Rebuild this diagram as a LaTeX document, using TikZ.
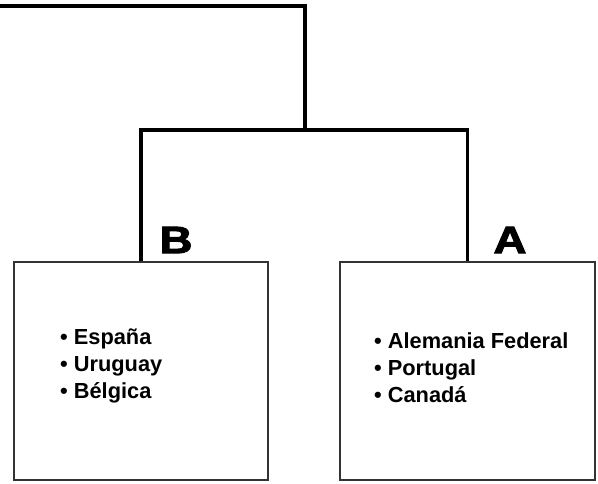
\documentclass[tikz,border=0pt]{standalone}
\usepackage{fontspec}
\setmainfont{Liberation Sans}
\newfontfamily\tagfont[BoldFeatures={FakeBold=2.5}]{Liberation Sans}
\begin{document}
\begin{tikzpicture}
[
 x=1pt, y=-1pt,
 inner sep=0pt,
 LINK/.style={line width=3.6pt, line join=miter},
 GROUPBOX/.style={rectangle, draw=black!80, line width=1.4pt, fill=white},
 LISTTXT/.style={anchor=west, align=left, font=\fontsize{21.8}{27}\selectfont\bfseries},
 TAG/.style={font=\tagfont\fontsize{38}{38}\selectfont\bfseries, xscale=1.2},
 ]
%
\useasboundingbox (0,0) rectangle (598,483);
%
\node [GROUPBOX, minimum width=254pt, minimum height=218pt]  (BOXB)  at (141,371)   {};
\node [GROUPBOX, minimum width=255pt, minimum height=218pt]  (BOXA)  at (467.5,371) {};
%
\coordinate (LEFT) at (0,6);
\coordinate (JOIN) at (305,130);
%
\draw [LINK]  (LEFT) -| (JOIN) ;
\draw [LINK]  (BOXB.north) |- (JOIN) -| (BOXA.north) ;
%
\node [TAG]  (TAGB)  at (176,240)  {B};
\node [TAG]  (TAGA)  at (510,240)  {A};
%
\node [LISTTXT]  (LISTB)  at (60,366)  {• España\\• Uruguay\\• Bélgica};
\node [LISTTXT]  (LISTA)  at (374,368) {• Alemania Federal\\• Portugal\\• Canadá};
%
\end{tikzpicture}
\end{document}
